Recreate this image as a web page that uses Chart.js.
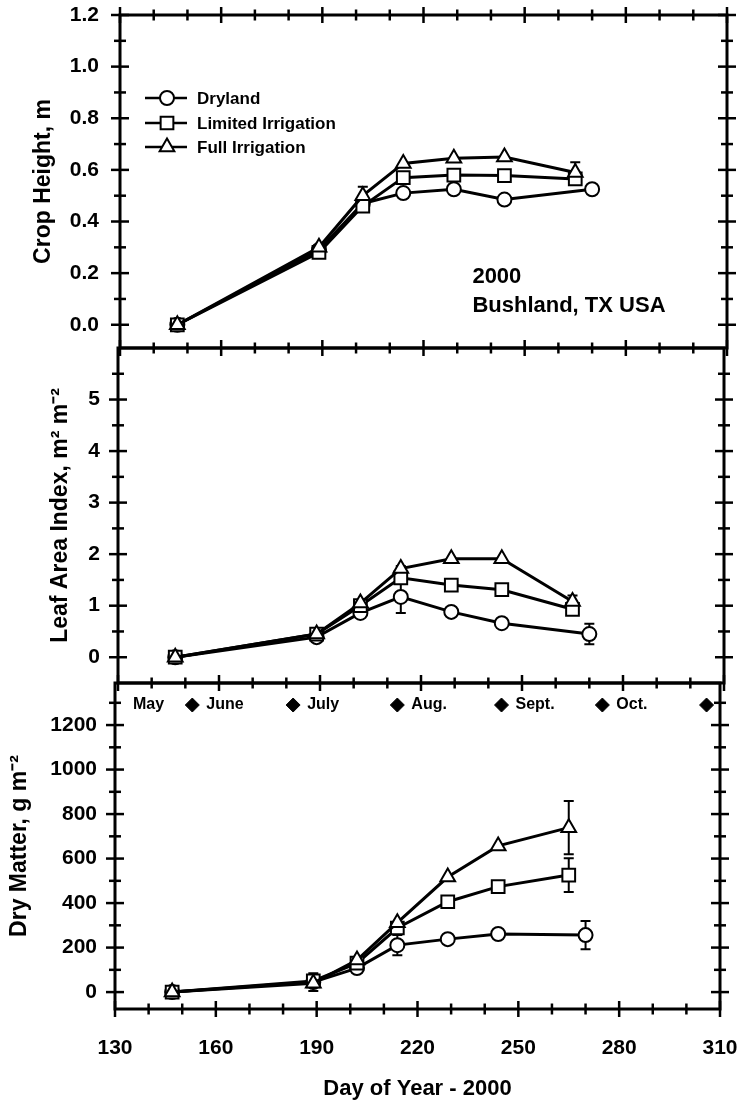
<!DOCTYPE html>
<html>
<head>
<meta charset="utf-8">
<script src="https://cdn.jsdelivr.net/npm/chart.js@4.4.1/dist/chart.umd.min.js"></script>
<style>
  body { margin: 0; background: #fff; }
  #wrap { position: relative; width: 742px; height: 1105px; }
  canvas { position: absolute; left: 0; }
</style>
</head>
<body>
<div id="wrap">
  <canvas id="heightChart" width="742" height="360" style="top:0px"></canvas>
  <canvas id="laiChart" width="742" height="360" style="top:336px"></canvas>
  <canvas id="dmChart" width="742" height="434" style="top:671px"></canvas>
</div>
<script>
// Sampling dates (day of year)
const daysIrrigated = [147, 189, 202, 214, 229, 244, 265];
const daysDryland = [147, 189, 202, 214, 229, 244, 270];

// Crop height, m
const heightDryland = [0, 0.29, 0.47, 0.51, 0.525, 0.485, 0.525];
const heightLimited = [0, 0.28, 0.46, 0.57, 0.58, 0.578, 0.565];
const heightFull = [0, 0.30, 0.50, 0.625, 0.645, 0.65, 0.59];
const heightDrylandErr = [0, 0, 0, 0, 0, 0, 0];
const heightLimitedErr = [0, 0, 0, 0, 0, 0, 0.02];
const heightFullErr = [0, 0, 0.035, 0, 0, 0, 0.04];

// Leaf area index, m2 m-2
const laiDryland = [0, 0.39, 0.86, 1.17, 0.88, 0.66, 0.45];
const laiLimited = [0, 0.45, 1.0, 1.54, 1.40, 1.31, 0.93];
const laiFull = [0, 0.45, 1.05, 1.72, 1.91, 1.91, 1.08];
const laiDrylandErr = [0, 0, 0, 0.31, 0, 0, 0.2];
const laiLimitedErr = [0, 0, 0, 0.1, 0, 0, 0.08];
const laiFullErr = [0, 0, 0, 0.05, 0, 0, 0.12];

// Dry matter, g m-2
const dmDryland = [0, 45, 108, 211, 238, 261, 256];
const dmLimited = [0, 50, 130, 288, 406, 474, 526];
const dmFull = [0, 40, 144, 312, 517, 657, 739];
const dmDrylandErr = [0, 40, 0, 45, 0, 0, 64];
const dmLimitedErr = [0, 0, 0, 0, 0, 0, 76];
const dmFullErr = [0, 0, 0, 0, 0, 0, 120];

// Tick labels
const xTicks = [130, 160, 190, 220, 250, 280, 310];
const heightTicks = [0, 0.2, 0.4, 0.6, 0.8, 1.0, 1.2];
const laiTicks = [0, 1, 2, 3, 4, 5];
const dmTicks = [0, 200, 400, 600, 800, 1000, 1200];

// Month strip (first day of each month, leap year 2000)
const monthNames = ["May", "June", "July", "Aug.", "Sept.", "Oct."];
const monthStarts = [122, 153, 183, 214, 245, 275, 306];
const monthRowLevel = 1290;

const FONT = "'Liberation Sans', Arial, Helvetica, sans-serif";
Chart.defaults.font.family = FONT;
Chart.defaults.font.weight = "bold";
Chart.defaults.color = "#000";

function series(label, days, values, errors, style, radius, order) {
  return {
    label: label,
    data: days.map((d, i) => ({ x: d, y: values[i] })),
    errors: errors,
    borderColor: "#000",
    borderWidth: 3,
    backgroundColor: "#fff",
    pointStyle: style,
    pointRadius: radius,
    pointBorderWidth: 2,
    pointBorderColor: "#000",
    pointBackgroundColor: "#fff",
    tension: 0,
    order: order,
    clip: false
  };
}

function threeSeries(dry, lim, full, dryErr, limErr, fullErr) {
  return [
    series("Dryland", daysDryland, dry, dryErr, "circle", 7, 3),
    series("Limited Irrigation", daysIrrigated, lim, limErr, "rect", 9, 2),
    series("Full Irrigation", daysIrrigated, full, fullErr, "triangle", 8.5, 1)
  ];
}

// Box around each panel, with ticks crossing the axis lines
const framePlugin = {
  id: "frame",
  afterDatasetsDraw(chart, args, opts) {
    const { ctx, chartArea: a, scales: { x, y } } = chart;
    ctx.save();
    ctx.strokeStyle = "#000";
    ctx.lineWidth = 3;
    ctx.strokeRect(a.left, a.top, a.right - a.left, a.bottom - a.top);
    ctx.lineWidth = 2.5;
    const edges = opts.topTicks ? [a.top, a.bottom] : [a.bottom];
    for (let d = 130; d <= 310; d += 10) {
      const px = x.getPixelForValue(d);
      const len = (d - 130) % 30 === 0 ? 8 : 5.5;
      edges.forEach((ey) => {
        ctx.beginPath();
        ctx.moveTo(px, ey - len);
        ctx.lineTo(px, ey + len);
        ctx.stroke();
      });
    }
    for (let i = 0; i <= opts.minorCount; i++) {
      const v = i * opts.minorStep;
      const py = y.getPixelForValue(v);
      const major = opts.major.some((m) => Math.abs(m - v) < 1e-6);
      const len = major ? 9 : 6;
      [a.left, a.right].forEach((ex) => {
        ctx.beginPath();
        ctx.moveTo(ex - len, py);
        ctx.lineTo(ex + len, py);
        ctx.stroke();
      });
    }
    ctx.restore();
  }
};

// Error bars, drawn under the markers
const errorBarPlugin = {
  id: "errorBars",
  beforeDatasetsDraw(chart) {
    const { ctx, scales: { x, y } } = chart;
    ctx.save();
    ctx.strokeStyle = "#000";
    ctx.lineWidth = 2;
    chart.data.datasets.forEach((ds) => {
      if (!ds.errors) return;
      ds.data.forEach((pt, i) => {
        const e = ds.errors[i];
        if (!e) return;
        const px = x.getPixelForValue(pt.x);
        const top = y.getPixelForValue(pt.y + e);
        const bot = y.getPixelForValue(pt.y - e);
        ctx.beginPath();
        ctx.moveTo(px, top);
        ctx.lineTo(px, bot);
        ctx.moveTo(px - 5, top);
        ctx.lineTo(px + 5, top);
        ctx.moveTo(px - 5, bot);
        ctx.lineTo(px + 5, bot);
        ctx.stroke();
      });
    });
    ctx.restore();
  }
};

// Legend, site text and month names
const extrasPlugin = {
  id: "extras",
  afterDraw(chart, args, opts) {
    const { ctx, chartArea: a, scales: { x, y } } = chart;
    ctx.save();
    ctx.fillStyle = "#000";
    if (opts.legend) {
      const rows = [a.top + 83, a.top + 108, a.top + 132];
      chart.data.datasets.slice(0, 3).forEach((ds, i) => {
        const ly = rows[i];
        ctx.strokeStyle = "#000";
        ctx.lineWidth = 2.5;
        ctx.beginPath();
        ctx.moveTo(a.left + 25, ly);
        ctx.lineTo(a.left + 67, ly);
        ctx.stroke();
        ctx.fillStyle = "#fff";
        ctx.lineWidth = 2;
        Chart.helpers.drawPoint(ctx, { pointStyle: ds.pointStyle, radius: ds.pointRadius, borderWidth: 2, rotation: 0 }, a.left + 47, ly);
        ctx.fillStyle = "#000";
        ctx.font = "bold 17px " + FONT;
        ctx.textBaseline = "middle";
        ctx.textAlign = "left";
        ctx.fillText(ds.label, a.left + 77, ly + 1);
      });
    }
    if (opts.site) {
      ctx.font = "bold 22px " + FONT;
      ctx.textBaseline = "middle";
      ctx.textAlign = "left";
      const sx = x.getPixelForValue(234.5);
      ctx.fillText("2000", sx, y.getPixelForValue(0.184));
      ctx.fillText("Bushland, TX USA", sx, y.getPixelForValue(0.072));
    }
    if (opts.months) {
      ctx.font = "bold 16px " + FONT;
      ctx.textBaseline = "middle";
      ctx.textAlign = "left";
      const my = y.getPixelForValue(monthRowLevel);
      monthNames.forEach((m, i) => {
        const start = x.getPixelForValue(monthStarts[i]);
        const mx = start < a.left ? a.left + 18 : start + 14;
        ctx.fillText(m, mx, my);
      });
    }
    ctx.restore();
  }
};

function buildPanel(canvasId, p) {
  return new Chart(document.getElementById(canvasId), {
    type: "line",
    data: { datasets: p.datasets },
    options: {
      responsive: false,
      animation: false,
      devicePixelRatio: 1,
      layout: { padding: { top: p.padTop, bottom: p.padBottom, right: p.padRight, left: 0 } },
      plugins: {
        legend: { display: false },
        tooltip: { enabled: false },
        frame: p.frame,
        extras: p.extras
      },
      scales: {
        x: {
          type: "linear",
          min: 130,
          max: 310,
          display: p.showX,
          afterBuildTicks: (s) => { s.ticks = xTicks.map((v) => ({ value: v })); },
          afterFit: (s) => {
            s.height = p.showX ? 96 : 0;
            s.paddingLeft = 0;
            s.paddingRight = 0;
          },
          grid: { display: false, drawTicks: false },
          border: { display: false },
          ticks: { padding: 27, font: { size: 21, weight: "bold" }, maxRotation: 0 },
          title: {
            display: true,
            text: "Day of Year - 2000",
            font: { size: 22, weight: "bold" },
            padding: { top: 0, bottom: 3 }
          }
        },
        y: {
          type: "linear",
          min: p.yMin,
          max: p.yMax,
          afterBuildTicks: (s) => { s.ticks = p.yTicks.map((v) => ({ value: v })); },
          afterFit: (s) => {
            s.width = p.left;
            s.paddingTop = 0;
            s.paddingBottom = 0;
          },
          grid: { display: false, drawTicks: false },
          border: { display: false },
          ticks: {
            padding: p.labelPad,
            font: { size: 21, weight: "bold" },
            callback: p.fmt
          },
          title: {
            display: true,
            text: p.title,
            font: { size: 23, weight: "bold" },
            padding: { top: p.titlePad, bottom: 0 }
          }
        }
      }
    },
    plugins: [errorBarPlugin, framePlugin, extrasPlugin]
  });
}

buildPanel("heightChart", {
  datasets: threeSeries(heightDryland, heightLimited, heightFull, heightDrylandErr, heightLimitedErr, heightFullErr),
  yMin: -0.09, yMax: 1.2, yTicks: heightTicks,
  fmt: (v) => v.toFixed(1),
  left: 120, padRight: 15, padTop: 15, padBottom: 12,
  labelPad: 21, title: "Crop Height, m", titlePad: 30, showX: false,
  frame: { topTicks: true, minorStep: 0.1, minorCount: 12, major: heightTicks },
  extras: { legend: true, site: true }
});

buildPanel("laiChart", {
  datasets: threeSeries(laiDryland, laiLimited, laiFull, laiDrylandErr, laiLimitedErr, laiFullErr),
  yMin: -0.5, yMax: 6, yTicks: laiTicks,
  fmt: (v) => String(v),
  left: 118, padRight: 18, padTop: 12, padBottom: 13,
  labelPad: 18, title: "Leaf Area Index, m\u00B2 m\u207B\u00B2", titlePad: 47, showX: false,
  frame: { topTicks: false, minorStep: 0.5, minorCount: 11, major: laiTicks },
  extras: {}
});

const dmDatasets = threeSeries(dmDryland, dmLimited, dmFull, dmDrylandErr, dmLimitedErr, dmFullErr);
dmDatasets.push({
  label: "months",
  data: monthStarts.slice(1).map((d) => ({ x: d, y: monthRowLevel })),
  showLine: false,
  pointStyle: "rectRot",
  pointRadius: 7,
  pointBackgroundColor: "#000",
  pointBorderColor: "#000",
  pointBorderWidth: 1,
  order: 0,
  clip: false
});

buildPanel("dmChart", {
  datasets: dmDatasets,
  yMin: -76, yMax: 1389, yTicks: dmTicks,
  fmt: (v) => String(v),
  left: 115, padRight: 22, padTop: 12, padBottom: 0,
  labelPad: 18, title: "Dry Matter, g m\u207B\u00B2", titlePad: 6, showX: true,
  frame: { topTicks: false, minorStep: 100, minorCount: 13, major: dmTicks },
  extras: { months: true }
});
</script>
</body>
</html>
